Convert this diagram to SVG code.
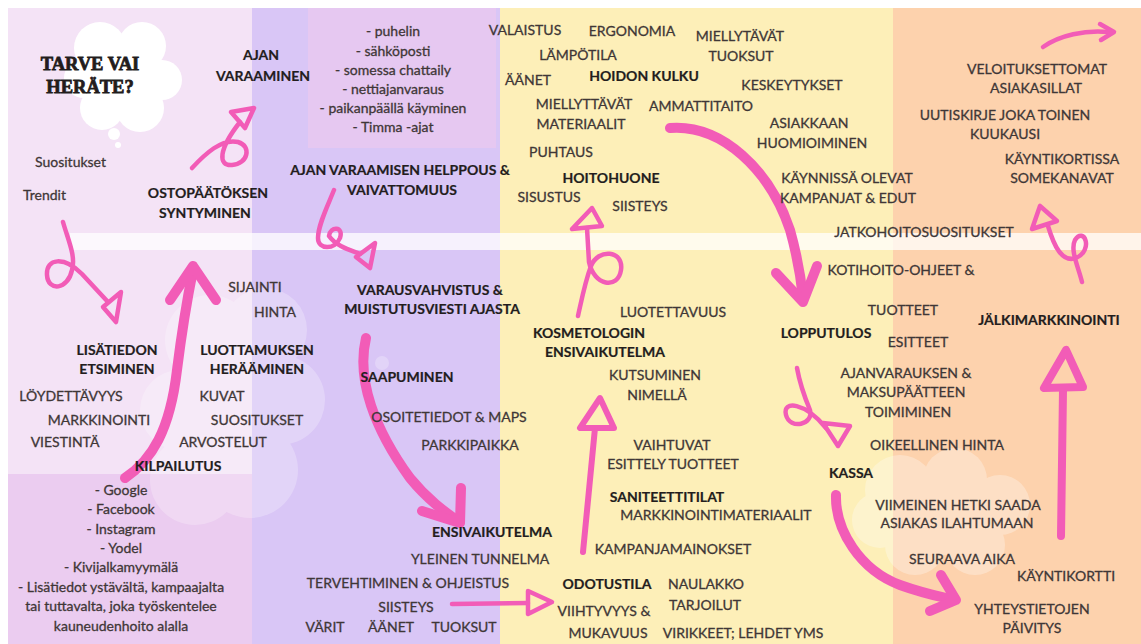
<svg xmlns="http://www.w3.org/2000/svg" width="1141" height="644" viewBox="0 0 1141 644">
<style>
text{font-family:Lato,"Noto Sans","Liberation Sans",sans-serif;font-size:14px;fill:#3f3737;stroke:#3f3737;stroke-width:0.3;text-anchor:middle}
.b{font-weight:bold;fill:#231d1d;stroke:#231d1d;stroke-width:0.2}
.s{text-anchor:start}
.h{font-family:"Liberation Serif","DejaVu Serif",serif;font-weight:bold;font-size:18.5px;fill:#231c1c;stroke:#231c1c;stroke-width:0.8}
.p{fill:none;stroke:#f25cb7;stroke-linecap:round;stroke-linejoin:round}
.k{stroke-width:10}
.n{stroke-width:4.5}
.cl{fill:#ffffff}
</style>
<rect x="0" y="0" width="1141" height="644" fill="#ffffff"/>
<rect x="8" y="8" width="244" height="636" fill="#f4e3f6"/>
<rect x="8" y="474" width="244" height="170" fill="#ebccf0"/>
<rect x="252" y="8" width="248" height="636" fill="#d9c6f6"/>
<rect x="308" y="8" width="188" height="140" fill="#e6c8f1"/>
<rect x="500" y="8" width="393" height="636" fill="#fdefb8"/>
<rect x="893" y="8" width="248" height="636" fill="#fdd2ad"/>
<rect x="70" y="233" width="1071" height="17" fill="#ffffff" opacity="0.75"/>
<g id="cloud-top" class="cl">
<circle cx="100" cy="48" r="26"/><circle cx="142" cy="46" r="24"/><circle cx="162" cy="80" r="20"/><circle cx="140" cy="108" r="24"/><circle cx="102" cy="108" r="22"/><circle cx="84" cy="78" r="20"/><circle cx="122" cy="78" r="34"/><circle cx="114" cy="134" r="6"/><circle cx="118" cy="145" r="3"/>
</g>
<g id="cloud-mid" class="cl" opacity="0.25">
<circle cx="210" cy="340" r="45"/><circle cx="265" cy="330" r="42"/><circle cx="280" cy="400" r="45"/><circle cx="250" cy="470" r="48"/><circle cx="195" cy="480" r="45"/><circle cx="180" cy="410" r="40"/><circle cx="235" cy="405" r="60"/><circle cx="382" cy="363" r="7"/>
</g>
<g id="cloud-right" class="cl" opacity="0.3">
<circle cx="900" cy="490" r="35"/><circle cx="955" cy="480" r="32"/><circle cx="1000" cy="505" r="30"/><circle cx="975" cy="545" r="30"/><circle cx="915" cy="545" r="30"/><circle cx="880" cy="520" r="28"/><circle cx="945" cy="515" r="40"/>
</g>
<g id="connectors">
<path class="p n" d="M192,168 C205,154 222,138 238,142 C252,146 248,164 232,165 C218,166 218,150 240,122"/>
<polygon class="p n" points="254,108 231,112 245,128"/>
<path class="p n" d="M63,222 C68,240 76,256 72,270 C68,290 48,292 47,275 C46,258 64,256 82,274 L108,302"/>
<polygon class="p n" points="121,292 103,307 116,322"/>
<path class="p k" d="M125,478 C152,460 170,430 177,370 C182,330 187,300 193,270"/>
<polyline class="p k" points="170,300 193,266 216,300"/>
<path class="p n" d="M334,190 C328,205 318,225 318,238 C318,250 335,250 340,238 C344,226 330,226 329,236 C336,246 350,250 360,254"/>
<polygon class="p n" points="375,243 356,257 370,268"/>
<path class="p k" d="M366,338 C356,380 375,430 410,478 C428,500 445,512 458,521"/>
<polyline class="p k" points="422,511 460,523 461,488"/>
<path class="p n" d="M452,604 L528,603"/>
<polygon class="p n" points="528,591 552,602 528,614"/>
<path class="p n" style="stroke-width:6" d="M583,552 L595,428"/>
<polygon class="p n" style="stroke-width:6" points="600,398 580,428 614,428"/>
<path class="p n" d="M578,316 C582,298 585,282 591,266 C598,248 624,250 621,270 C618,290 594,286 589,262 L587,228"/>
<polygon class="p n" points="592,208 572,229 602,226"/>
<path class="p k" d="M670,128 C722,124 770,170 790,230 C797,255 801,278 803,298"/>
<polyline class="p k" points="776,273 803,302 817,266"/>
<path class="p n" d="M797,368 C800,385 805,398 810,410 C814,425 790,430 786,415 C782,400 805,402 826,428"/>
<polygon class="p n" points="823,423 850,426 838,446"/>
<path class="p k" d="M836,495 C835,530 860,570 900,585 C925,594 942,597 954,600"/>
<polyline class="p k" points="941,575 956,600 930,611"/>
<path class="p k" style="stroke-width:8" d="M1061,536 L1063,390"/>
<polygon class="p" style="stroke-width:8" points="1066,350 1044,388 1083,387"/>
<path class="p n" d="M1082,282 C1078,266 1070,250 1075,240 C1084,226 1094,250 1076,258 C1062,263 1054,246 1048,226"/>
<polygon class="p n" points="1040,206 1032,229 1057,221"/>
<path class="p n" d="M1043,47 C1060,35 1085,30 1108,32"/>
<polyline class="p n" points="1100,24 1114,32 1101,40"/>
</g>
<g id="tarve"><text class="h" x="90" y="70">TARVE VAI</text><text class="h" x="90" y="93">HERÄTE?</text></g>
<g id="suositukset1"><text class="s" x="35" y="167">Suositukset</text></g>
<g id="trendit"><text class="s" x="23" y="200">Trendit</text></g>
<g id="ostopaatos"><text class="b" x="208" y="198">OSTOPÄÄTÖKSEN</text><text class="b" x="205" y="218">SYNTYMINEN</text></g>
<g id="ajan-varaaminen"><text class="b" x="261" y="60">AJAN</text><text class="b" x="263" y="81">VARAAMINEN</text></g>
<g id="sijainti"><text x="255" y="292">SIJAINTI</text><text x="275" y="317">HINTA</text></g>
<g id="lisatiedon"><text class="b" x="117" y="355">LISÄTIEDON</text><text class="b" x="117" y="374">ETSIMINEN</text></g>
<g id="luottamuksen"><text class="b" x="257" y="355">LUOTTAMUKSEN</text><text class="b" x="257" y="374">HERÄÄMINEN</text></g>
<g id="loydettavyys"><text x="71" y="401">LÖYDETTÄVYYS</text><text x="99" y="425">MARKKINOINTI</text><text x="65" y="447">VIESTINTÄ</text></g>
<g id="kuvat"><text x="222" y="401">KUVAT</text><text x="257" y="425">SUOSITUKSET</text><text x="223" y="447">ARVOSTELUT</text></g>
<g id="kilpailutus"><text class="b" x="178" y="471">KILPAILUTUS</text>
<text x="121" y="495">- Google</text><text x="121" y="514">- Facebook</text><text x="121" y="534">- Instagram</text><text x="121" y="553">- Yodel</text><text x="121" y="572">- Kivijalkamyymälä</text><text x="121" y="592">- Lisätiedot ystävältä, kampaajalta</text><text x="121" y="611">tai tuttavalta, joka työskentelee</text><text x="121" y="631">kauneudenhoito alalla</text></g>
<g id="kanavat"><text x="393" y="36">- puhelin</text><text x="393" y="56">- sähköposti</text><text x="393" y="75">- somessa chattaily</text><text x="393" y="94">- nettiajanvaraus</text><text x="393" y="113">- paikanpäällä käyminen</text><text x="393" y="132">- Timma -ajat</text></g>
<g id="helppous"><text class="b" x="400" y="175">AJAN VARAAMISEN HELPPOUS &amp;</text><text class="b" x="402" y="195">VAIVATTOMUUS</text></g>
<g id="varausvahvistus"><text class="b" x="430" y="295">VARAUSVAHVISTUS &amp;</text><text class="b" x="432" y="314">MUISTUTUSVIESTI AJASTA</text></g>
<g id="saapuminen"><text class="b" x="407" y="382">SAAPUMINEN</text><text x="449" y="422">OSOITETIEDOT &amp; MAPS</text><text x="470" y="450">PARKKIPAIKKA</text></g>
<g id="ensivaikutelma"><text class="b" x="492" y="537">ENSIVAIKUTELMA</text><text x="480" y="564">YLEINEN TUNNELMA</text><text x="408" y="588">TERVEHTIMINEN &amp; OHJEISTUS</text><text x="406" y="612">SIISTEYS</text><text x="325" y="632">VÄRIT</text><text x="391" y="632">ÄÄNET</text><text x="464" y="632">TUOKSUT</text></g>
<g id="hoidon-kulku"><text x="525" y="35">VALAISTUS</text><text x="632" y="36">ERGONOMIA</text><text x="740" y="41">MIELLYTÄVÄT</text><text x="741" y="61">TUOKSUT</text><text x="578" y="60">LÄMPÖTILA</text><text class="b" x="644" y="81">HOIDON KULKU</text><text x="528" y="85">ÄÄNET</text><text x="792" y="90">KESKEYTYKSET</text><text x="584" y="109">MIELLYTTÄVÄT</text><text x="581" y="129">MATERIAALIT</text><text x="701" y="111">AMMATTITAITO</text><text x="809" y="128">ASIAKKAAN</text><text x="812" y="148">HUOMIOIMINEN</text><text x="561" y="157">PUHTAUS</text></g>
<g id="hoitohuone"><text class="b" x="611" y="183">HOITOHUONE</text><text x="549" y="202">SISUSTUS</text><text x="640" y="211">SIISTEYS</text></g>
<g id="kampanjat"><text x="847" y="183">KÄYNNISSÄ OLEVAT</text><text x="848" y="203">KAMPANJAT &amp; EDUT</text></g>
<g id="lopputulos"><text x="924" y="237">JATKOHOITOSUOSITUKSET</text><text x="901" y="275">KOTIHOITO-OHJEET &amp;</text><text x="903" y="315">TUOTTEET</text><text x="918" y="347">ESITTEET</text><text class="b" x="826" y="338">LOPPUTULOS</text></g>
<g id="kosmetologin"><text x="673" y="317">LUOTETTAVUUS</text><text class="b" x="589" y="338">KOSMETOLOGIN</text><text class="b" x="605" y="357">ENSIVAIKUTELMA</text><text x="655" y="380">KUTSUMINEN</text><text x="657" y="400">NIMELLÄ</text></g>
<g id="saniteettitilat"><text x="672" y="450">VAIHTUVAT</text><text x="673" y="469">ESITTELY TUOTTEET</text><text class="b" x="667" y="502">SANITEETTITILAT</text><text x="716" y="520">MARKKINOINTIMATERIAALIT</text><text x="673" y="554">KAMPANJAMAINOKSET</text></g>
<g id="odotustila"><text class="b" x="607" y="589">ODOTUSTILA</text><text x="706" y="589">NAULAKKO</text><text x="705" y="610">TARJOILUT</text><text x="604" y="616">VIIHTYVYYS &amp;</text><text x="608" y="638">MUKAVUUS</text><text x="743" y="638">VIRIKKEET; LEHDET YMS</text></g>
<g id="kassa"><text x="906" y="378">AJANVARAUKSEN &amp;</text><text x="906" y="397">MAKSUPÄÄTTEEN</text><text x="908" y="417">TOIMIMINEN</text><text x="937" y="450">OIKEELLINEN HINTA</text><text class="b" x="851" y="478">KASSA</text><text x="958" y="510">VIIMEINEN HETKI SAADA</text><text x="957" y="528">ASIAKAS ILAHTUMAAN</text><text x="962" y="564">SEURAAVA AIKA</text><text x="1066" y="581">KÄYNTIKORTTI</text><text x="1032" y="614">YHTEYSTIETOJEN</text><text x="1032" y="633">PÄIVITYS</text></g>
<g id="jalkimarkkinointi"><text x="1037" y="74">VELOITUKSETTOMAT</text><text x="1036" y="93">ASIAKASILLAT</text><text x="1005" y="120">UUTISKIRJE JOKA TOINEN</text><text x="1005" y="139">KUUKAUSI</text><text x="1062" y="164">KÄYNTIKORTISSA</text><text x="1062" y="183">SOMEKANAVAT</text><text class="b" x="1049" y="325">JÄLKIMARKKINOINTI</text></g>
</svg>
